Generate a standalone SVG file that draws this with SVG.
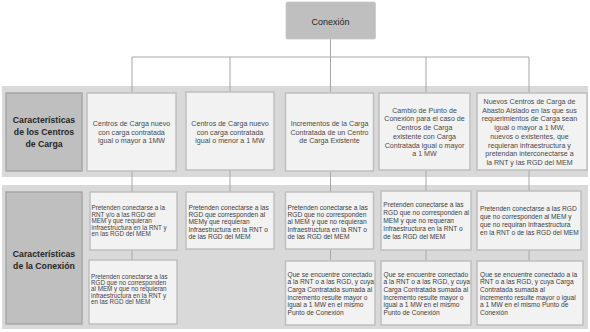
<svg xmlns="http://www.w3.org/2000/svg" width="590" height="332" viewBox="0 0 590 332">
<style>
.band{fill:#d9d9d9}
.lbl{fill:#bfbfbf;stroke:#a6a6a6;stroke-width:1.5}
.box{fill:#f2f2f2;stroke:#bfbfbf;stroke-width:1.5}
.root{fill:#bfbfbf;stroke:#c8c8c8;stroke-width:0.8}
.con{stroke:#a6a6a6;stroke-width:1;fill:none}
text{font-family:"Liberation Sans",Arial,sans-serif}
.lt{font-size:8.7px;font-weight:bold;fill:#262626;text-anchor:middle}
.rt{font-size:9px;fill:#262626;text-anchor:middle}
.t1{font-size:7.1px;fill:#4a4a4a;text-anchor:middle}
.t2{font-size:6.6px;fill:#404040}
.t3{font-size:6.3px;fill:#4a4040}
</style>
<rect class="band" x="2" y="86" width="586" height="91"/>
<rect class="band" x="2" y="185" width="586" height="144"/>
<g id="connectors">
<path class="con" d="M330.5 39V57M132 57H529M132 57V93M230 57V92M330.5 57V93M426 57V93M529 57V93"/>
<path class="con" d="M132 171V192M230 170V192M330.5 171V192M426 171V191M529 170V192"/>
<path class="con" d="M132 250V260M330.5 249V261M426 250V261M529 250V261"/>
</g>
<g id="root">
<rect class="root" x="286" y="2" width="89.5" height="37" rx="1.5"/>
<text class="rt" x="330.5" y="25">Conexión</text>
</g>
<g id="label1">
<rect class="lbl" x="6" y="93" width="76" height="78"/>
<text class="lt"><tspan x="44" y="123.1">Características</tspan><tspan x="44" y="134.8">de los Centros</tspan><tspan x="44" y="146.8">de Carga</tspan></text>
</g>
<g id="label2">
<rect class="lbl" x="6" y="192" width="76" height="132"/>
<text class="lt"><tspan x="44" y="256.6">Características</tspan><tspan x="44" y="269.1">de la Conexión</tspan></text>
</g>
<g id="c1">
<rect class="box" x="87" y="93" width="89" height="78"/>
<text class="t1"><tspan x="131.5" y="125.8">Centros de Carga nuevo</tspan><tspan x="131.5" y="134.5">con carga contratada</tspan><tspan x="131.5" y="143.2">igual o mayor a 1MW</tspan></text>
</g>
<g id="c2">
<rect class="box" x="186" y="92" width="88" height="78"/>
<text class="t1"><tspan x="230" y="125.8">Centros de Carga nuevo</tspan><tspan x="230" y="134.5">con carga contratada</tspan><tspan x="230" y="143.2">igual o menor a 1 MW</tspan></text>
</g>
<g id="c3">
<rect class="box" x="285.5" y="93" width="88" height="78"/>
<text class="t1"><tspan x="329.5" y="125.8">Incrementos de la Carga</tspan><tspan x="329.5" y="134.5">Contratada de un Centro</tspan><tspan x="329.5" y="143.2">de Carga Existente</tspan></text>
</g>
<g id="c4">
<rect class="box" x="379" y="93" width="91" height="77"/>
<text class="t1"><tspan x="424.5" y="112.75">Cambio de Punto de</tspan><tspan x="424.5" y="121.45">Conexión para el caso de</tspan><tspan x="424.5" y="130.15">Centros de Carga</tspan><tspan x="424.5" y="138.85">existente con Carga</tspan><tspan x="424.5" y="147.55">Contratada igual o mayor</tspan><tspan x="424.5" y="156.25">a 1 MW</tspan></text>
</g>
<g id="c5">
<rect class="box" x="477" y="93" width="110" height="77"/>
<text class="t1"><tspan x="529.5" y="104.05">Nuevos Centros de Carga de</tspan><tspan x="529.5" y="112.75">Abasto Aislado en las que sus</tspan><tspan x="529.5" y="121.45">requerimientos de Carga sean</tspan><tspan x="529.5" y="130.15">igual o mayor a 1 MW,</tspan><tspan x="529.5" y="138.85">nuevos o existentes, que</tspan><tspan x="529.5" y="147.55">requieran infraestructura y</tspan><tspan x="529.5" y="156.25">pretendan interconectarse a</tspan><tspan x="529.5" y="164.95">la RNT y las RGD del MEM</tspan></text>
</g>
<g id="c1a">
<rect class="box" x="90" y="192" width="87" height="58"/>
<text class="t3"><tspan x="91.5" y="210.4">Pretenden conectarse a la</tspan><tspan x="91.5" y="216.8">RNT y/o  a las RGD  del</tspan><tspan x="91.5" y="223.2">MEM  y que requieran</tspan><tspan x="91.5" y="229.6">infraestructura  en la RNT y</tspan><tspan x="91.5" y="236">en las RGD del MEM</tspan></text>
</g>
<g id="c1b">
<rect class="box" x="89" y="260" width="88" height="64"/>
<text class="t3"><tspan x="91" y="278.6">Pretenden conectarse a las</tspan><tspan x="91" y="285">RGD  que no corresponden</tspan><tspan x="91" y="291.4">al MEM  y que no requieran</tspan><tspan x="91" y="297.8">infraestructura  en la RNT y</tspan><tspan x="91" y="304.2">en las RGD del MEM</tspan></text>
</g>
<g id="c2a">
<rect class="box" x="186" y="192" width="88" height="57"/>
<text class="t2"><tspan x="188.5" y="209.6">Pretenden conectarse a las</tspan><tspan x="188.5" y="217">RGD que corresponden al</tspan><tspan x="188.5" y="224.4">MEMy que requieran</tspan><tspan x="188.5" y="231.9">Infraestructura en la RNT o</tspan><tspan x="188.5" y="239.3">de las RGD del MEM</tspan></text>
</g>
<g id="c3a">
<rect class="box" x="285.5" y="192" width="88" height="57"/>
<text class="t2"><tspan x="287.5" y="209.6">Pretenden conectarse a las</tspan><tspan x="287.5" y="217">RGD que no corresponden</tspan><tspan x="287.5" y="224.4">al MEM y que no requieran</tspan><tspan x="287.5" y="231.9">Infraestructura en la RNT o</tspan><tspan x="287.5" y="239.3">de las RGD del MEM</tspan></text>
</g>
<g id="c3b">
<rect class="box" x="285.5" y="261" width="89.5" height="64"/>
<text class="t2"><tspan x="287.5" y="276.6">Que se encuentre conectado</tspan><tspan x="287.5" y="284.3">a la RNT o a las RGD, y cuya</tspan><tspan x="287.5" y="291.9">Carga Contratada sumada al</tspan><tspan x="287.5" y="299.6">incremento resulte mayor o</tspan><tspan x="287.5" y="307.3">igual a 1 MW en el mismo</tspan><tspan x="287.5" y="314.9">Punto de Conexión</tspan></text>
</g>
<g id="c4a">
<rect class="box" x="381" y="191" width="90" height="59"/>
<text class="t2"><tspan x="383.3" y="206.6">Pretenden conectarse a las</tspan><tspan x="383.3" y="214.6">RGD que no corresponden al</tspan><tspan x="383.3" y="222.6">MEM y que no requeran</tspan><tspan x="383.3" y="230.6">Infraestructura en la RNT o</tspan><tspan x="383.3" y="238.6">de las RGD del MEM</tspan></text>
</g>
<g id="c4b">
<rect class="box" x="381" y="261" width="90" height="64"/>
<text class="t2"><tspan x="383.5" y="276.6">Que se encuentre conectado</tspan><tspan x="383.5" y="284.3">a la RNT o a las RGD, y cuya</tspan><tspan x="383.5" y="291.9">Carga Contratada sumada al</tspan><tspan x="383.5" y="299.6">incremento resulte mayor o</tspan><tspan x="383.5" y="307.3">igual a 1 MW en el mismo</tspan><tspan x="383.5" y="314.9">Punto de Conexión</tspan></text>
</g>
<g id="c5a">
<rect class="box" x="477" y="191" width="104" height="59"/>
<text class="t2"><tspan x="480" y="211.3">Pretenden conectarse a las RGD</tspan><tspan x="480" y="219.3">que no corresponden al MEM y</tspan><tspan x="480" y="227.3">que no requiran Infraestructura</tspan><tspan x="480" y="235.3">en la RNT o de las RGD del MEM</tspan></text>
</g>
<g id="c5b">
<rect class="box" x="477" y="261" width="106" height="64"/>
<text class="t2"><tspan x="480" y="276.6">Que se encuentre conectado a la</tspan><tspan x="480" y="284.3">RNT o a las RGD, y cuya Carga</tspan><tspan x="480" y="291.9">Contratada sumada al</tspan><tspan x="480" y="299.6">incremento resulte mayor o igual</tspan><tspan x="480" y="307.3">a 1 MW en el mismo Punto de</tspan><tspan x="480" y="314.9">Conexión</tspan></text>
</g>
</svg>
